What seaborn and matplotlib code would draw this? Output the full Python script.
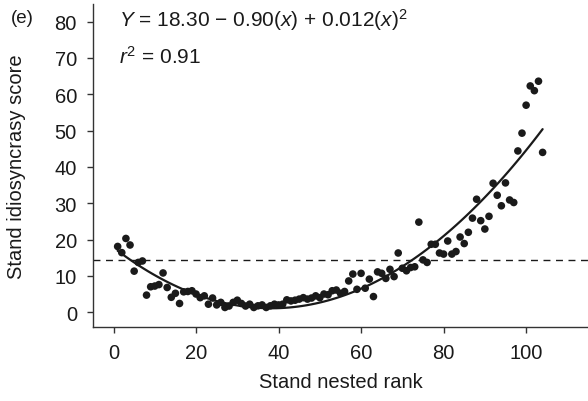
import numpy as np
import pandas as pd
import matplotlib
matplotlib.use("Agg")
import matplotlib.pyplot as plt
import seaborn as sns

# ---- data ----
rank = list(range(1, 105))
score = [18.1, 16.4, 20.3, 18.5, 11.3, 13.7, 14.1, 4.7, 7.0, 7.2,
         7.6, 10.8, 6.8, 4.1, 5.2, 2.4, 5.6, 5.7, 5.9, 5.0,
         4.0, 4.5, 2.2, 3.9, 2.0, 2.7, 1.3, 1.7, 2.7, 3.3,
         2.4, 1.7, 2.2, 1.3, 1.75, 2.0, 1.3, 1.75, 2.2, 2.0,
         2.2, 3.4, 3.1, 3.3, 3.6, 4.0, 3.6, 3.9, 4.5, 4.0,
         5.0, 4.8, 5.9, 6.1, 5.2, 5.7, 8.6, 10.5, 6.3, 10.7,
         6.6, 9.1, 4.3, 11.1, 10.7, 9.3, 11.8, 9.8, 16.3, 12.1,
         11.4, 12.3, 12.5, 24.8, 14.4, 13.7, 18.7, 18.7, 16.3, 16.0,
         19.6, 16.0, 16.7, 20.7, 18.9, 22.0, 25.9, 31.1, 25.2, 22.9,
         26.4, 35.5, 32.2, 29.3, 35.6, 30.9, 30.2, 44.4, 49.3, 57.0,
         62.3, 61.0, 63.6, 44.0]
threshold = 14.3
x_ticks = [0, 20, 40, 60, 80, 100]
y_ticks = [0, 10, 20, 30, 40, 50, 60, 70, 80]
equation_text = r"$Y$ = 18.30 $-$ 0.90($x$) + 0.012($x$)$^2$"
r2_text = r"$r^2$ = 0.91"
panel_label = "(e)"
x_label = "Stand nested rank"
y_label = "Stand idiosyncrasy score"

df = pd.DataFrame({"rank": rank, "score": score})

sns.set_theme(style="ticks")
plt.rcParams["font.family"] = ["Liberation Sans", "DejaVu Sans"]
plt.rcParams["mathtext.fontset"] = "custom"
plt.rcParams["mathtext.rm"] = "Liberation Sans"
plt.rcParams["mathtext.it"] = "Liberation Sans:italic"
plt.rcParams["mathtext.bf"] = "Liberation Sans:bold"

ink = "#1a1a1a"
fs = 14.5
fig = plt.figure(figsize=(5.88, 4.02), dpi=100)
ax = fig.add_axes([0.158, 0.183, 0.842, 0.804])

sns.regplot(data=df, x="rank", y="score", order=2, ci=None, ax=ax,
            scatter_kws=dict(s=30, color=ink, edgecolor="none", alpha=1),
            line_kws=dict(color=ink, lw=1.6))
ax.axhline(threshold, color=ink, lw=1.0, ls=(0, (5, 4)))

ax.set_xlim(-5, 115)
ax.set_ylim(-4.2, 84.8)
ax.set_xticks(x_ticks)
ax.set_yticks(y_ticks)
ax.tick_params(axis="both", direction="out", length=4.5, width=1, colors="#333333",
               labelsize=fs, labelcolor=ink, pad=7)
ax.set_xlabel(x_label, fontsize=fs, color=ink, labelpad=7)
ax.set_ylabel(y_label, fontsize=fs, color=ink)
ax.yaxis.set_label_coords(-0.135, 0.5)
for side in ["top", "right"]:
    ax.spines[side].set_visible(False)
for side in ["left", "bottom"]:
    ax.spines[side].set_color("#333333")
    ax.spines[side].set_linewidth(1.0)

fig.text(0.018, 0.955, panel_label, fontsize=fs - 1, color=ink, va="center")
ax.text(0.053, 0.954, equation_text, transform=ax.transAxes, fontsize=15,
        color=ink, va="center")
ax.text(0.053, 0.839, r2_text, transform=ax.transAxes, fontsize=15,
        color=ink, va="center")

fig.savefig("out.png", dpi=100)
